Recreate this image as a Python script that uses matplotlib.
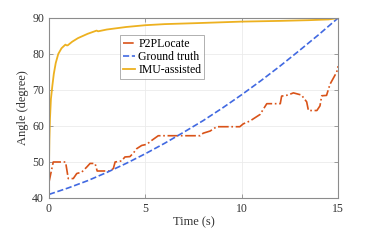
import matplotlib
matplotlib.use('Agg')
import matplotlib.pyplot as plt

# P2PLocate estimate (stepwise)
p2p_t = [0, 0.22, 0.86, 1.0, 1.26, 1.44, 1.7, 1.96, 2.13, 2.39, 2.5, 3.17, 3.34, 3.43,
         3.77, 3.94, 4.2, 4.38, 4.55, 4.81, 5.07, 5.33, 5.67, 7.84, 8.0, 8.36, 8.7,
         9.9, 10.08, 10.43, 10.95, 11.3, 12.0, 12.07, 12.4, 12.68, 13.1, 13.37, 13.46,
         13.9, 14.06, 14.15, 14.4, 14.58, 14.93, 15.0]
p2p_v = [44.4, 50.0, 50.0, 45.4, 45.4, 46.8, 47.2, 48.6, 49.6, 49.6, 47.5, 47.5, 48.2, 50.0,
         50.3, 51.4, 51.5, 52.5, 53.7, 54.6, 54.9, 56.0, 57.3, 57.3, 58.0, 58.6, 59.8,
         59.8, 60.6, 61.4, 63.2, 66.2, 66.2, 68.3, 68.6, 69.2, 68.6, 66.7, 64.3,
         64.3, 65.6, 68.4, 68.5, 71.6, 75.0, 76.6]

# ground truth
gt_t = [0, 1, 2, 3, 4, 5, 6, 7, 8, 9, 10, 11, 12, 13, 14, 15]
gt_v = [41.0, 42.8, 44.8, 47.1, 49.6, 52.3, 55.2, 58.3, 61.5, 65.0, 68.7, 72.6, 76.7, 81.0, 85.4, 90.0]

# IMU-assisted
imu_t = [0, 0.02, 0.05, 0.1, 0.17, 0.25, 0.35, 0.48, 0.65, 0.85, 0.92, 0.97, 1.2, 1.5,
         2.0, 2.47, 2.55, 3.0, 4.0, 5.0, 6.0, 7.8, 10.0, 12.0, 13.5, 14.5, 15.0]
imu_v = [49.0, 56.0, 62.0, 67.5, 71.0, 74.5, 77.5, 80.0, 81.6, 82.6, 82.4, 82.4, 83.4, 84.4,
         85.6, 86.5, 86.3, 86.8, 87.5, 88.0, 88.3, 88.6, 89.0, 89.2, 89.4, 89.6, 90.0]

plt.rcParams['font.family'] = 'Liberation Serif'
fig = plt.figure(figsize=(3.74, 2.4), dpi=100)
ax = fig.add_axes([0.131, 0.175, 0.773, 0.75])

ax.plot(p2p_t, p2p_v, '-.', color='#d95319', lw=1.2, label='P2PLocate')
ax.plot(gt_t, gt_v, '--', color='#4169e1', lw=1.2, label='Ground truth')
ax.plot(imu_t, imu_v, '-', color='#edb120', lw=1.3, label='IMU-assisted')

ax.set_xlim(0, 15)
ax.set_ylim(40, 90)
ax.set_xticks([0, 5, 10, 15])
ax.set_yticks([40, 50, 60, 70, 80, 90])
ax.grid(True, color='#ebebeb', lw=0.6)
ax.set_axisbelow(True)
for s in ax.spines.values():
    s.set_color('#8c8c8c')
    s.set_linewidth(0.8)
ax.tick_params(direction='in', length=3, width=0.6, colors='#8c8c8c',
               labelcolor='#333333', labelsize=8.5, top=True, right=True,
               labeltop=False, labelright=False)
ax.set_xlabel('Time (s)', fontsize=9, color='#333333', labelpad=1)
ax.set_ylabel('Angle (degree)', fontsize=9, color='#333333', labelpad=2)

leg = ax.legend(loc='upper left', bbox_to_anchor=(0.245, 0.905), fontsize=8.5,
                frameon=True, fancybox=False, edgecolor='#8c8c8c',
                handlelength=1.0, handletextpad=0.3, borderpad=0.25,
                labelspacing=0.1, borderaxespad=0)
leg.get_frame().set_linewidth(0.6)

fig.savefig('out.png', dpi=100)
